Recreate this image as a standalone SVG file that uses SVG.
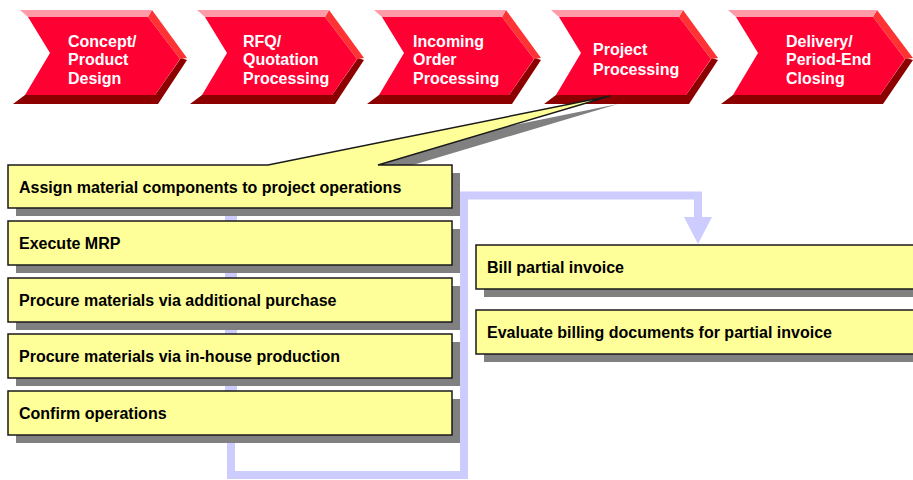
<svg xmlns="http://www.w3.org/2000/svg" width="913" height="480" viewBox="0 0 913 480">
<style>
.dark{fill:#8c0000}
.facet{fill:#ff3333}
.pink{fill:#ff9aa8}
.face{fill:#ff0033}
.ct{font-family:"Liberation Sans",Arial,sans-serif;font-weight:bold;font-size:16px;fill:#ffffff}
.box{fill:#ffff99;stroke:#1a1a1a;stroke-width:1.5}
.shadow{fill:#808080}
.bt{font-family:"Liberation Sans",Arial,sans-serif;font-weight:bold;font-size:16px;fill:#000000}
.conn{fill:none;stroke:#ccccff;stroke-width:8}
</style>
<defs>
<g id="chev">
<polygon class="dark" points="25,95 155,95 181,58 187,60 158,104 13,104"/>
<polygon class="facet" points="148,17 152,10 187,58 180,59"/>
<polygon class="pink" points="20,10 152,10 148,17 28,17"/>
<polygon class="face" points="28,17 148,17 180,59 155,95 25,95 50,53"/>
</g>
</defs>
<g id="chevron1"><use href="#chev"/><text class="ct" x="68" y="46.5">Concept/</text><text class="ct" x="68" y="65">Product</text><text class="ct" x="68" y="83.5">Design</text></g>
<g id="chevron2"><use href="#chev" transform="translate(177,0)"/><text class="ct" x="243" y="46.5">RFQ/</text><text class="ct" x="243" y="65">Quotation</text><text class="ct" x="243" y="83.5">Processing</text></g>
<g id="chevron3"><use href="#chev" transform="translate(354,0)"/><text class="ct" x="413" y="46.5">Incoming</text><text class="ct" x="413" y="65">Order</text><text class="ct" x="413" y="83.5">Processing</text></g>
<g id="chevron4"><use href="#chev" transform="translate(531,0)"/><text class="ct" x="593" y="55">Project</text><text class="ct" x="593" y="74.5">Processing</text></g>
<g id="chevron5">
<polygon class="dark" points="733,95 880,95 906,58 913,60 883,104 721,104"/>
<polygon class="facet" points="873,17 877,10 913,58 905,59"/>
<polygon class="pink" points="728,10 877,10 873,17 736,17"/>
<polygon class="face" points="736,17 873,17 905,59 880,95 733,95 758,53"/>
<text class="ct" x="786" y="46.5">Delivery/</text><text class="ct" x="786" y="65">Period-End</text><text class="ct" x="786" y="83.5">Closing</text>
</g>
<g id="connectors">
<rect x="225" y="208" width="12" height="200" fill="#ccccff"/>
<path class="conn" d="M231,400 V475 H464 V195.5 H698 V218"/>
<polygon points="684,217 712,217 698,244" fill="#ccccff"/>
</g>
<g id="box1">
<path class="shadow" d="M16,173 H276 L618,104 L386,173 H460 V216 H16 Z"/>
<path class="box" d="M8,165 H268 L610,96 L378,165 H452 V208 H8 Z"/>
<text class="bt" x="19" y="193">Assign material components to project operations</text>
</g>
<g id="box2"><rect class="shadow" x="16" y="229" width="444" height="44"/><rect class="box" x="8" y="221" width="444" height="44"/><text class="bt" x="19" y="249">Execute MRP</text></g>
<g id="box3"><rect class="shadow" x="16" y="286" width="444" height="44"/><rect class="box" x="8" y="278" width="444" height="44"/><text class="bt" x="19" y="306">Procure materials via additional purchase</text></g>
<g id="box4"><rect class="shadow" x="16" y="342" width="444" height="44"/><rect class="box" x="8" y="334" width="444" height="44"/><text class="bt" x="19" y="362">Procure materials via in-house production</text></g>
<g id="box5"><rect class="shadow" x="16" y="399" width="444" height="44"/><rect class="box" x="8" y="391" width="444" height="44"/><text class="bt" x="19" y="419">Confirm operations</text></g>
<g id="box6"><rect class="shadow" x="484" y="253" width="440" height="44"/><rect class="box" x="476" y="245" width="450" height="44"/><text class="bt" x="487" y="273">Bill partial invoice</text></g>
<g id="box7"><rect class="shadow" x="484" y="318" width="440" height="44"/><rect class="box" x="476" y="310" width="450" height="44"/><text class="bt" x="487" y="338">Evaluate billing documents for partial invoice</text></g>
</svg>
